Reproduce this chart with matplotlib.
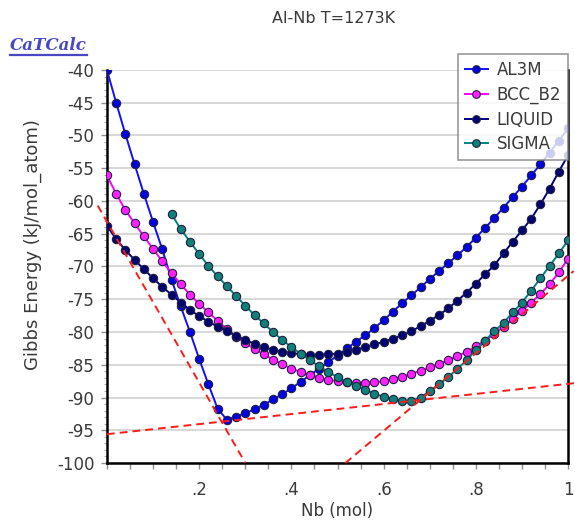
import matplotlib
matplotlib.use("Agg")
import matplotlib.pyplot as plt
from matplotlib.lines import Line2D
from matplotlib.ticker import MultipleLocator

plt.rcParams["font.family"] = ["DejaVu Sans"]
plt.rcParams["axes.unicode_minus"] = False

TITLE = "Al-Nb T=1273K"
X_LABEL = "Nb (mol)"
Y_LABEL = "Gibbs Energy (kJ/mol_atom)"

NB_GRID = [
    0.00, 0.02, 0.04, 0.06, 0.08, 0.10, 0.12, 0.14, 0.16, 0.18,
    0.20, 0.22, 0.24, 0.26, 0.28, 0.30, 0.32, 0.34, 0.36, 0.38,
    0.40, 0.42, 0.44, 0.46, 0.48, 0.50, 0.52, 0.54, 0.56, 0.58,
    0.60, 0.62, 0.64, 0.66, 0.68, 0.70, 0.72, 0.74, 0.76, 0.78,
    0.80, 0.82, 0.84, 0.86, 0.88, 0.90, 0.92, 0.94, 0.96, 0.98,
    1.00,
]

AL3M = [
    -40.0, -45.0, -49.8, -54.4, -58.9, -63.2, -67.4, -72.0, -76.1, -80.0,
    -84.1, -88.0, -91.7, -93.4, -92.9, -92.4, -91.8, -91.1, -90.3, -89.5,
    -88.6, -87.6, -86.6, -85.6, -84.6, -83.6, -82.5, -81.5, -80.5, -79.4,
    -78.2, -76.9, -75.6, -74.4, -73.2, -71.9, -70.7, -69.5, -68.3, -67.0,
    -65.6, -64.1, -62.6, -61.0, -59.4, -57.8, -56.1, -54.4, -52.6, -50.8,
    -48.9,
]

BCC_B2 = [
    -56.1, -58.9, -61.4, -63.4, -65.4, -67.3, -69.2, -71.0, -72.7, -74.3,
    -75.7, -77.0, -78.3, -79.5, -80.7, -81.7, -82.6, -83.4, -84.2, -84.9,
    -85.6, -86.1, -86.6, -87.0, -87.3, -87.5, -87.7, -87.8, -87.8, -87.7,
    -87.5, -87.2, -86.8, -86.4, -85.9, -85.4, -84.9, -84.3, -83.7, -83.0,
    -82.2, -81.3, -80.3, -79.2, -78.0, -76.8, -75.5, -74.2, -72.7, -70.9,
    -68.8,
]

LIQUID = [
    -63.8, -65.8, -67.5, -69.0, -70.4, -71.8, -73.1, -74.3, -75.5, -76.6,
    -77.6, -78.4, -79.2, -79.9, -80.6, -81.2, -81.8, -82.3, -82.7, -83.0,
    -83.2, -83.4, -83.5, -83.5, -83.4, -83.3, -83.0, -82.7, -82.3, -81.9,
    -81.5, -81.0, -80.5, -79.9, -79.1, -78.3, -77.4, -76.4, -75.2, -74.0,
    -72.6, -71.2, -69.8, -68.0, -66.2, -64.5, -62.7, -60.5, -58.1, -55.5,
    -53.0,
]

# sigma only exists from Nb = 0.14
SIGMA_NB = NB_GRID[7:]
SIGMA = [
    -62.0, -64.3, -66.2, -68.1, -69.9, -71.5, -73.0, -74.5, -76.0, -77.4,
    -78.7, -80.0, -81.2, -82.3, -83.3, -84.3, -85.2, -86.1, -86.9, -87.6,
    -88.2, -88.8, -89.4, -89.9, -90.3, -90.5, -90.5, -90.0, -89.0, -88.0,
    -86.9, -85.6, -84.3, -82.8, -81.3, -79.9, -78.6, -77.0, -75.5, -73.7,
    -71.8, -69.9, -68.0, -66.0,
]

# common tangent construction lines: (x0, y0, x1, y1)
TANGENTS = [
    (-0.02, -60.7, 0.30, -100.0),
    (0.00, -95.6, 1.015, -87.8),
    (0.517, -100.0, 1.012, -70.7),
]

PHASES = [
    ("AL3M", NB_GRID, AL3M, "#1010ff", "#0000e0"),
    ("BCC_B2", NB_GRID, BCC_B2, "#ff00ff", "#ff20ff"),
    ("LIQUID", NB_GRID, LIQUID, "#000080", "#000070"),
    ("SIGMA", SIGMA_NB, SIGMA, "#008080", "#108078"),
]

TEXT_COLOR = "#3a3a3a"


def main() -> None:
    fig = plt.figure(figsize=(5.75, 5.2), dpi=100)
    ax = fig.add_axes([0.186, 0.1096, 0.802, 0.7558])

    for name, xs, ys, line_color, face in PHASES:
        ax.plot(xs, ys, color=line_color, linewidth=1.4, marker="o",
                markersize=6.0, markerfacecolor=face,
                markeredgecolor="#202040", markeredgewidth=0.8,
                label=name, zorder=3)

    for x0, y0, x1, y1 in TANGENTS:
        ax.plot([x0, x1], [y0, y1], color="#ff1a1a", linewidth=1.4,
                linestyle=(0, (4, 2.6)), clip_on=False, zorder=4)

    ax.set_xlim(0, 1)
    ax.set_ylim(-100, -40)
    ax.set_yticks(range(-100, -39, 5))
    ax.set_yticklabels([str(v) for v in range(-100, -39, 5)])
    ax.set_xticks([0.2, 0.4, 0.6, 0.8, 1.0])
    ax.set_xticklabels([".2", ".4", ".6", ".8", "1"])
    ax.xaxis.set_minor_locator(MultipleLocator(0.05))
    ax.yaxis.set_minor_locator(MultipleLocator(1))

    ax.grid(True, axis="y", color="#d4d4d4", linewidth=1.3, zorder=0)
    ax.set_axisbelow(True)

    ax.spines["top"].set_visible(False)
    for side in ("left", "bottom", "right"):
        ax.spines[side].set_linewidth(1.8)
        ax.spines[side].set_color("black")

    ax.tick_params(axis="both", which="major", labelsize=12,
                   labelcolor=TEXT_COLOR, color="#909090", length=4, width=1)
    ax.tick_params(axis="x", which="both", pad=9)
    ax.tick_params(axis="x", which="minor", color="#909090", length=4, width=1)
    ax.tick_params(axis="y", which="minor", color="#b0b0b0", length=2.5, width=0.8)
    ax.tick_params(axis="y", which="major", pad=5)

    ax.set_xlabel(X_LABEL, fontsize=12, color=TEXT_COLOR, labelpad=2)
    # y label sits a little above the axes centre, as in the CaTCalc output
    fig.text(0.058, 0.53, Y_LABEL, fontsize=13, color=TEXT_COLOR,
             rotation=90, ha="center", va="center")
    fig.text(0.58, 0.965, TITLE, fontsize=11.5, color=TEXT_COLOR,
             ha="center", va="center")

    leg = ax.legend(loc="upper right", bbox_to_anchor=(0.999, 1.04),
                    fontsize=12, frameon=True, fancybox=False,
                    handlelength=1.4, handletextpad=0.5, labelspacing=0.4,
                    borderpad=0.4, borderaxespad=0.0)
    leg.get_frame().set_edgecolor("#808080")
    leg.get_frame().set_linewidth(1.2)
    for text in leg.get_texts():
        text.set_color(TEXT_COLOR)
    for handle in leg.legend_handles:
        handle.set_markersize(5.5)

    logo = fig.text(0.018, 0.913, "CaTCalc", fontsize=12, color="#4848c4",
                    family="DejaVu Serif", style="italic", weight="bold",
                    ha="left", va="center")
    fig.canvas.draw()
    bb = logo.get_window_extent()
    y_line = (bb.y0 - 1) / fig.bbox.height
    fig.add_artist(Line2D([bb.x0 / fig.bbox.width, bb.x1 / fig.bbox.width],
                          [y_line, y_line], color="#4848c4", linewidth=1.6))

    fig.savefig("out.png", dpi=100)
    plt.close(fig)


if __name__ == "__main__":
    main()
